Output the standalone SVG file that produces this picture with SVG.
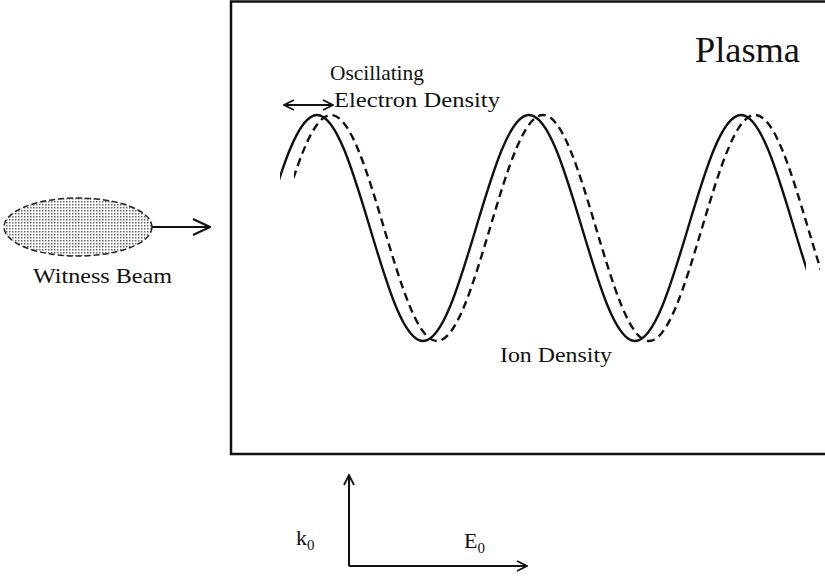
<svg xmlns="http://www.w3.org/2000/svg" width="825" height="577" viewBox="0 0 825 577">
<style>
text{font-family:"Liberation Serif","Times New Roman",serif;fill:#111;}
.lbl{font-size:21px;}
.ln{fill:none;stroke:#111;stroke-width:2;}
.wave{fill:none;stroke:#111;stroke-width:2.4;}
.dash{stroke-dasharray:8,5;}
</style>
<defs>
<marker id="ah" viewBox="0 0 12 12" refX="11" refY="6" markerWidth="12" markerHeight="12" markerUnits="userSpaceOnUse" orient="auto-start-reverse">
<path d="M1,1 L11,6 L1,11" fill="none" stroke="#111" stroke-width="1.8"/>
</marker>
<marker id="ahb" viewBox="0 0 20 20" refX="19" refY="10" markerWidth="20" markerHeight="20" markerUnits="userSpaceOnUse" orient="auto">
<path d="M2,2 L19,10 L2,18" fill="none" stroke="#111" stroke-width="2"/>
</marker>
<pattern id="dots" width="3" height="3" patternUnits="userSpaceOnUse">
<rect width="3" height="3" fill="#fff"/>
<rect x="0" y="0" width="1.5" height="1.5" fill="#666"/>
</pattern>
<clipPath id="wclip"><rect x="280" y="0" width="526" height="577"/></clipPath>
<path id="wpath" d="M264,228 c17.29,-57.89 33.82,-113 53,-113 c19.18,0 35.71,55.11 53,113 c17.29,57.89 33.82,113 53,113 c19.18,0 35.71,-55.11 53,-113 c17.29,-57.89 33.82,-113 53,-113 c19.18,0 35.71,55.11 53,113 c17.29,57.89 33.82,113 53,113 c19.18,0 35.71,-55.11 53,-113 c17.29,-57.89 33.82,-113 53,-113 c19.18,0 35.71,55.11 53,113 c17.29,57.89 33.82,113 53,113"/>
</defs>
<g id="plasma">
<rect x="231" y="1.5" width="640" height="452.5" fill="none" stroke="#111" stroke-width="2.5"/>
<text x="695" y="62" font-size="36" textLength="105" lengthAdjust="spacingAndGlyphs">Plasma</text>
</g>
<g id="electron-density">
<g clip-path="url(#wclip)"><use href="#wpath" class="wave"/></g>
<g transform="translate(14,0)"><g clip-path="url(#wclip)"><use href="#wpath" class="wave dash"/></g></g>
<text class="lbl" x="330" y="80" textLength="94" lengthAdjust="spacingAndGlyphs">Oscillating</text>
<text class="lbl" x="334" y="107" textLength="166" lengthAdjust="spacingAndGlyphs">Electron Density</text>
</g>
<g id="ion-density">
<text class="lbl" x="500" y="362" textLength="112" lengthAdjust="spacingAndGlyphs">Ion Density</text>
</g>
<g id="witness-beam">
<ellipse cx="78" cy="227" rx="74" ry="29" fill="url(#dots)" stroke="#222" stroke-width="1.5" stroke-dasharray="6,3"/>
<text class="lbl" x="33" y="283" textLength="139" lengthAdjust="spacingAndGlyphs">Witness Beam</text>
</g>
<g id="axes-labels">
<text x="296" y="545" font-size="22">k<tspan font-size="15" dy="5">0</tspan></text>
<text x="464" y="548" font-size="22">E<tspan font-size="15" dy="5">0</tspan></text>
</g>
<g id="connectors">
<line class="ln" x1="152" y1="227" x2="210" y2="227" marker-end="url(#ahb)"/>
<line class="ln" x1="284" y1="105" x2="333" y2="105" marker-start="url(#ah)" marker-end="url(#ah)"/>
<line class="ln" x1="349" y1="566" x2="349" y2="475" marker-end="url(#ah)"/>
<line class="ln" x1="349" y1="566" x2="527" y2="566" marker-end="url(#ah)"/>
</g>
</svg>
